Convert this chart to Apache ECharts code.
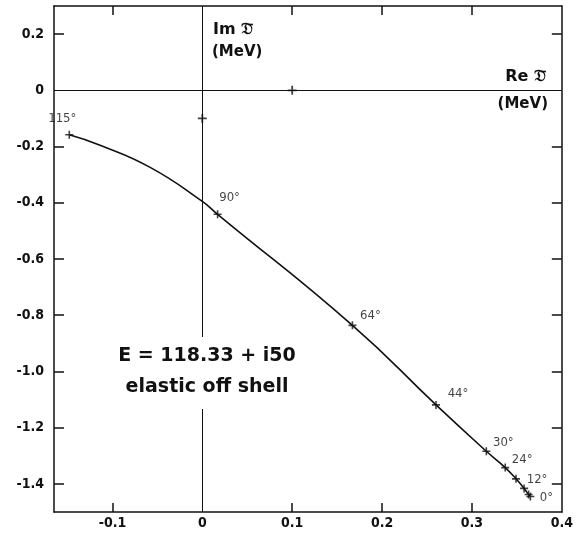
<!DOCTYPE html>
<html>
<head>
<meta charset="utf-8">
<script src="https://cdn.jsdelivr.net/npm/echarts@6/dist/echarts.min.js"></script>
<style>
  html, body { margin: 0; padding: 0; background: #fff; }
  #chart { width: 576px; height: 533px; }
</style>
</head>
<body>
<div id="chart"></div>
<script>
// marked points on the curve (scattering angle labels)
const angleLabels = ["115°", "90°", "64°", "44°", "30°", "24°", "", "12°", "", "0°"];
const markerRe = [-0.148, 0.017, 0.167, 0.260, 0.316, 0.337, 0.349, 0.358, 0.363, 0.365];
const markerIm = [-0.158, -0.441, -0.836, -1.119, -1.284, -1.342, -1.382, -1.416, -1.438, -1.445];

// points
const curveRe = [-0.148, -0.113, -0.058, 0.0, 0.017, 0.167, 0.260, 0.316, 0.337, 0.349, 0.358, 0.363, 0.365];
const curveIm = [-0.158, -0.196, -0.274, -0.395, -0.441, -0.836, -1.119, -1.284, -1.342, -1.382, -1.416, -1.438, -1.445];

// small crosses drawn on the zero axes
const axisMarkRe = [0, 0.1];
const axisMarkIm = [-0.1, 0];

const xTickValues = [-0.1, 0.1, 0.2, 0.3];
const xLabelValues = [-0.1, 0, 0.1, 0.2, 0.3, 0.4];
const yTickValues = [0.2, -0.2, -0.4, -0.6, -0.8, -1.0, -1.2, -1.4];
const yLabelValues = [0.2, 0, -0.2, -0.4, -0.6, -0.8, -1.0, -1.2, -1.4];

// label offsets in px, one per marker
const labelOffsets = [[-7, -16], [12, -17], [18, -10], [22, -11], [17, -9], [17, -8], [0, 0], [13, -9], [0, 0], [16, 1]];

const plus = "path://M4,0H6V4H10V6H6V10H4V6H0V4H4Z";
const tickFont = { fontFamily: "DejaVu Sans Condensed", fontWeight: "bold", fontSize: 14, color: "#111" };
const fmt = v => (Math.abs(v) < 1e-9 ? "0" : v.toFixed(1));

const chart = echarts.init(document.getElementById("chart"));

const axisCommon = {
  type: "value",
  axisLine: { show: true, onZero: false, lineStyle: { color: "#111", width: 1.5 } },
  splitLine: { show: false }
};

chart.setOption({
  animation: false,
  backgroundColor: "#fff",
  grid: { left: 54, top: 6, width: 511, height: 506 },
  xAxis: [
    Object.assign({}, axisCommon, {
      position: "bottom", min: -0.165, max: 0.4,
      axisTick: { show: true, inside: true, length: 9, lineStyle: { color: "#111", width: 1.5 }, customValues: xTickValues },
      axisLabel: Object.assign({ margin: 4, customValues: xLabelValues, formatter: fmt }, tickFont)
    }),
    Object.assign({}, axisCommon, {
      position: "top", min: -0.165, max: 0.4,
      axisTick: { show: true, inside: true, length: 9, lineStyle: { color: "#111", width: 1.5 }, customValues: xTickValues },
      axisLabel: { show: false }
    })
  ],
  yAxis: [
    Object.assign({}, axisCommon, {
      position: "left", min: -1.5, max: 0.3,
      axisTick: { show: true, inside: true, length: 10, lineStyle: { color: "#111", width: 1.5 }, customValues: yTickValues },
      axisLabel: Object.assign({ margin: 10, customValues: yLabelValues, formatter: fmt }, tickFont)
    }),
    Object.assign({}, axisCommon, {
      position: "right", min: -1.5, max: 0.3,
      axisTick: { show: true, inside: true, length: 10, lineStyle: { color: "#111", width: 1.5 }, customValues: yTickValues },
      axisLabel: { show: false }
    })
  ],
  series: [
    {
      name: "curve",
      type: "line",
      data: curveRe.map((x, i) => [x, curveIm[i]]),
      showSymbol: false,
      smooth: 0.5,
      lineStyle: { color: "#111", width: 1.6 },
      z: 3,
      markLine: {
        silent: true,
        symbol: ["none", "none"],
        label: { show: false },
        lineStyle: { color: "#111", type: "solid", width: 1 },
        data: [{ yAxis: 0 }, { xAxis: 0 }]
      }
    },
    {
      name: "markers",
      type: "scatter",
      symbol: plus,
      symbolSize: 8,
      itemStyle: { color: "#111" },
      z: 4,
      data: markerRe.map((x, i) => ({
        value: [x, markerIm[i]],
        label: { offset: labelOffsets[i] }
      })),
      label: {
        show: true,
        position: "inside",
        formatter: p => angleLabels[p.dataIndex],
        fontFamily: "DejaVu Sans Condensed",
        fontSize: 13,
        color: "#111"
      }
    },
    {
      name: "axis marks",
      type: "scatter",
      symbol: plus,
      symbolSize: 9,
      itemStyle: { color: "#111" },
      data: axisMarkRe.map((x, i) => [x, axisMarkIm[i]])
    }
  ],
  graphic: [
    {
      type: "text", left: 213, top: 22, z: 10,
      style: { text: "Im 𝔇̄", font: "bold 16px 'DejaVu Sans'", fill: "#111" }
    },
    {
      type: "text", left: 212, top: 45, z: 10,
      style: { text: "(MeV)", font: "bold 15px 'DejaVu Sans'", fill: "#111" }
    },
    {
      type: "text", right: 30, top: 69, z: 10,
      style: { text: "Re 𝔇̄", font: "bold 16px 'DejaVu Sans'", fill: "#111" }
    },
    {
      type: "text", right: 28, top: 97, z: 10,
      style: { text: "(MeV)", font: "bold 15px 'DejaVu Sans'", fill: "#111" }
    },
    {
      type: "text", x: 207, y: 337, z: 10,
      style: {
        text: "E = 118.33 + i50\nelastic off shell",
        font: "bold 19px 'DejaVu Sans'",
        lineHeight: 31,
        align: "center",
        fill: "#111",
        backgroundColor: "#fff",
        padding: [4, 6, 6, 6]
      }
    }
  ]
});
</script>
</body>
</html>
